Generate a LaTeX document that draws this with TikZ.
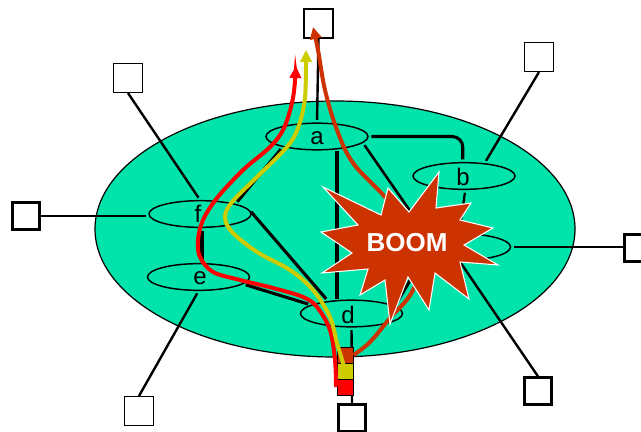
\documentclass[tikz,border=0pt]{standalone}
\usepackage{fontspec}
\setmainfont{Liberation Sans}
\usetikzlibrary{arrows.meta,shapes.geometric}
\definecolor{cloud}{HTML}{00E3AA}
\definecolor{flowo}{HTML}{CC3300}
\definecolor{flowy}{HTML}{CCCC00}
\definecolor{flowr}{HTML}{FF0000}
\tikzset{
  router/.style={ellipse,draw=black,line width=1.1pt,minimum width=76.5pt,minimum height=20pt,inner sep=0pt},
  rlabel/.style={inner sep=0pt,font=\fontsize{18}{18}\selectfont},
  hostthin/.style={rectangle,draw=black,fill=white,line width=1.1pt,minimum size=21.5pt,inner sep=0pt},
  hostthick/.style={rectangle,draw=black,fill=white,line width=1.9pt,minimum size=20pt,inner sep=0pt},
  core/.style={draw=black,line width=2.3pt,shorten <=2pt,shorten >=2pt},
  edgelink/.style={draw=black,line width=1.8pt,shorten <=2pt,shorten >=0pt},
  flow/.style={line width=3pt,-{Triangle[length=9pt,width=8.5pt]}},
  tag/.style={rectangle,draw=black,line width=.6pt,minimum width=11.5pt,minimum height=12pt,inner sep=0pt},
}
\begin{document}
\begin{tikzpicture}[x=.75pt,y=-.75pt]
\useasboundingbox (0,0) rectangle (641,431);
\fill[cloud,draw=black,line width=.9pt] (335,229) ellipse [x radius=240,y radius=128];
% routers
\node[router] (a) at (317,136.5) {};
\node[router] (b) at (464,176) {};
\node[router] (c) at (459.5,247) {};
\node[router] (d) at (351.5,313.5) {};
\node[router] (e) at (198.5,277) {};
\node[router] (f) at (200,214) {};
\node[rlabel] (la) at (317,138) {a};
\node[rlabel] (lb) at (463,177) {b};
\node[rlabel] (ld) at (348,315) {d};
\node[rlabel] (le) at (200,278) {e};
\node[rlabel] (lf) at (198,214) {f};
% hosts
\node[hostthin] (ha) at (318.5,23.5) {};
\node[hostthin] (hb) at (539,57) {};
\node[hostthick] (hc) at (638,248) {};
\node[hostthick] (hc2) at (538,391) {};
\node[hostthick] (hd) at (352,418) {};
\node[hostthin] (he) at (139,411) {};
\node[hostthin] (hf) at (128,78) {};
\node[hostthick] (hf2) at (26,216) {};
% host links
\draw[edgelink] (a.north) -- (ha.south);
\draw[edgelink] (b.32) -- (hb.south);
\draw[edgelink,line width=2pt] (c.east) -- (hc.west |- c.east);
\draw[edgelink] (c.south) -- (hc2.north);
\draw[edgelink] (d.south) -- (hd.north);
\draw[edgelink] (e.south) -- (he.north);
\draw[edgelink] (f.north) -- (hf.south);
\draw[edgelink,line width=2pt] (f.west |- hf2.east) -- (hf2.east);
% core links
\coordinate (adx) at (337,225);
\coordinate (fex) at (202,245);
\draw[core,rounded corners=8pt] (a.east) -| (b.95);
\draw[core,shorten <=0pt,shorten >=0pt] (adx |- a.south) -- (adx |- d.north);
\draw[core,line width=1.9pt] (a.-8.6) -- (c.161);
\draw[core] (a.197) -- (f.16);
\draw[core] (f.5) -- (d.152);
\draw[core] (fex |- f.south) -- (fex |- e.north);
\draw[core] (e.-9) -- (d.168);
\draw[core,line width=1.7pt] (b.-85) -- (c.north);
\draw[core] (c.196) -- (d.10);
% source tags
\node[tag,fill=flowo] (to) at (345.5,355) {};
\node[tag,fill=flowy] (ty) at (345.5,371) {};
\node[tag,fill=flowr] (tr) at (345.5,387) {};
% flows
\coordinate (endr) at (296,66);
\coordinate (endy) at (306,50);
\coordinate (endo) at (313,27);
\draw[flow,color=flowo] plot[smooth,tension=.6] coordinates {(to.east) (370,342) (390,318) (413,290) (425,245) (385,197) (353,163) (337,130) (325,90) (318,50) (endo)};
\draw[flow,color=flowr] plot[smooth,tension=.55] coordinates {(336,387) (335,360) (330,330) (317,307) (303,297) (273,288) (240,280) (213,272) (200,257) (198,240) (203,220) (217,198) (243,170) (270,147) (284,128) (293,98) (endr)};
\draw[flow,color=flowy] plot[smooth,tension=.55] coordinates {(ty.center) (337,343) (330,317) (313,290) (290,270) (257,252) (232,232) (225,217) (232,202) (257,177) (287,147) (298,128) (305,98) (endy)};
% explosion
\filldraw[fill=flowo,draw=white,line width=.8pt]
 (323,187) -- (381,215) -- (388,188) -- (409,212) -- (439,172) -- (436,208) -- (471,203) -- (460,220)
 -- (493,228) -- (464,245) -- (498,265) -- (460,262) -- (469,299) -- (435,273) -- (429,310) -- (408,277)
 -- (390,324) -- (385,280) -- (360,295) -- (368,269) -- (322,273) -- (352,253) -- (321,232) -- (358,225) -- cycle;
\node[text=white,font=\bfseries\fontsize{19.5}{20}\selectfont,inner sep=0pt] (boom) at (407,243) {BOOM};
\end{tikzpicture}
\end{document}
